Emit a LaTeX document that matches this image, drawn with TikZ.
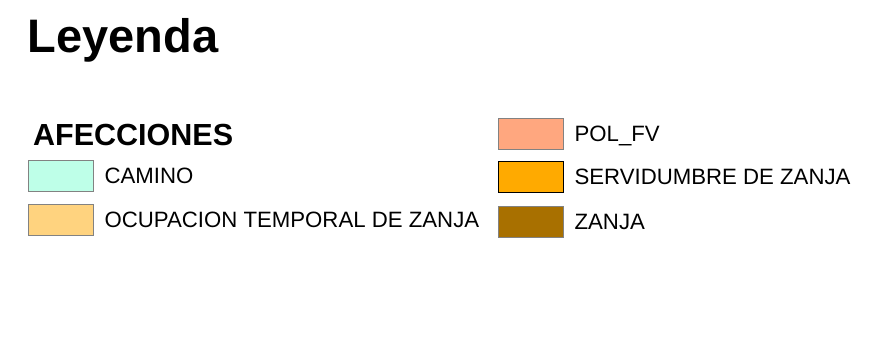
\documentclass[tikz,border=0pt]{standalone}
\usepackage{fontspec}
\setmainfont{Liberation Sans}
\usepackage{tikz}
\usetikzlibrary{positioning}
\usepackage{xcolor}
\definecolor{camino}{HTML}{BEFFE8}
\definecolor{ocupacion}{HTML}{FFD37F}
\definecolor{polfv}{HTML}{FFA77F}
\definecolor{servidumbre}{HTML}{FFAA00}
\definecolor{zanja}{HTML}{A87000}
\definecolor{borde}{HTML}{828282}

\begin{document}
\begin{tikzpicture}[x=1pt, y=-1pt,
    swatch/.style={draw=borde, line width=0.9pt, minimum width=65pt, minimum height=31pt, inner sep=0pt, anchor=north west},
    entrada/.style={font=\fontsize{22.2}{25}\selectfont, inner sep=0pt, text height=15.8pt, text depth=0pt, anchor=west}]
    \useasboundingbox (0,0) rectangle (890,338);

    % 标题
    \node[anchor=base west, inner sep=0pt, font=\fontsize{47}{52}\bfseries] (titulo) at (27.5,52) {Leyenda};
    \node[anchor=base west, inner sep=0pt, font=\fontsize{30.5}{34}\bfseries] (afecciones) at (33,145) {AFECCIONES};

    % 左列
    \node[swatch, fill=camino] (camino) at (27.5,159.5) {};
    \node[entrada, right=11pt of camino] (tcamino) {CAMINO};
    \node[swatch, fill=ocupacion] (ocupacion) at (27.5,203.5) {};
    \node[entrada, right=11pt of ocupacion] (tocupacion) {OCUPACION TEMPORAL DE ZANJA};

    % 右列
    \foreach \n/\c/\y/\t in {polfv/polfv/117.5/POL\_FV, zanja/zanja/205.5/ZANJA} {
        \node[swatch, fill=\c] (\n) at (497.5,\y) {};
        \node[entrada, right=11pt of \n] (t\n) {\t};
    }
    \node[swatch, fill=servidumbre, draw=black] (servidumbre) at (497.5,161) {};
    \node[entrada, right=11pt of servidumbre] (tservidumbre) {SERVIDUMBRE DE ZANJA};
\end{tikzpicture}
\end{document}
